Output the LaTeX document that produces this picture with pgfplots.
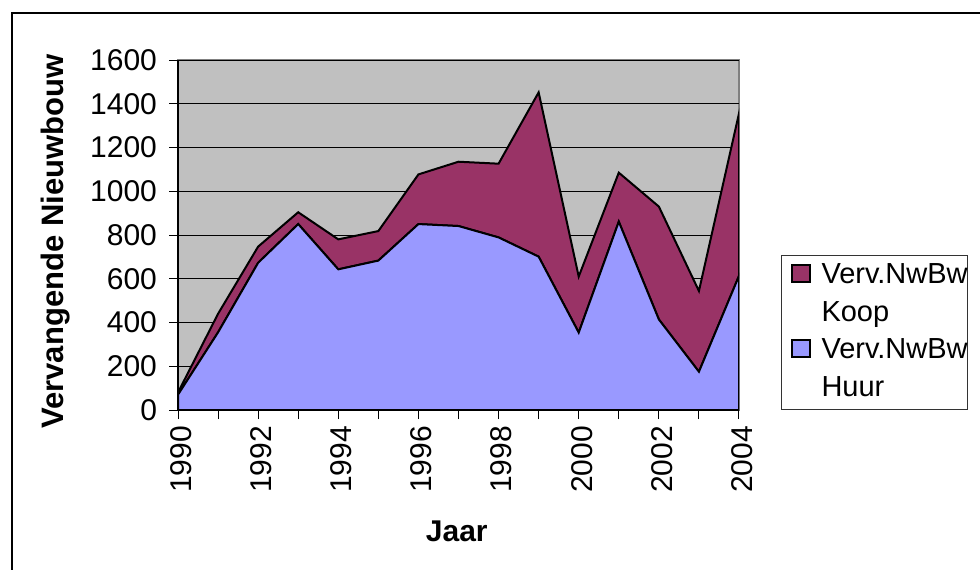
\documentclass[border=0pt]{standalone}
\usepackage{pgfplots}
\pgfplotsset{compat=1.18}
\usepackage{fontspec}
\setmainfont{Liberation Sans}
\definecolor{koop}{HTML}{993366}
\definecolor{huur}{HTML}{9999FF}
\definecolor{bgc}{HTML}{C0C0C0}
\definecolor{frame}{HTML}{808080}
\begin{document}
\begin{tikzpicture}
\useasboundingbox (0,0) rectangle (490pt,284.5pt);
\clip (0,0) rectangle (490pt,284.5pt);
\draw[line width=1pt] (6pt,-10pt) -- (6pt,278pt) -- (500pt,278pt);
\begin{axis}[
  at={(89pt,79.5pt)}, anchor=south west,
  width=280.5pt, height=175pt, scale only axis,
  xmin=1990, xmax=2004, ymin=0, ymax=1600,
  stack plots=y,
  axis x line*=bottom, axis y line*=left,
  x axis line style={-, black, line width=0.6pt},
  y axis line style={-, black, line width=0.6pt},
  axis background/.style={fill=bgc, draw=frame, line width=0.6pt},
  xtick={1990,...,2004},
  xticklabels={1990,,1992,,1994,,1996,,1998,,2000,,2002,,2004},
  ytick={0,200,...,1600},
  /pgf/number format/1000 sep={},
  /pgf/number format/assume math mode=true,
  ticklabel style={font=\fontsize{15}{17}\selectfont},
  x tick label style={rotate=90, anchor=east, yshift=-1.5pt},
  y tick label style={xshift=-2.5pt},
  tick align=outside, major tick length=4.5pt,
  tick style={black, line width=0.5pt},
  ymajorgrids, major grid style={black, line width=0.5pt},
  ylabel={Vervangende Nieuwbouw},
  xlabel={Jaar},
  every axis y label/.style={at={(axis description cs:-0.2175,0.481)}, rotate=90, anchor=center, font=\fontsize{15.5}{18}\selectfont\bfseries},
  every axis x label/.style={at={(axis description cs:0.497,-0.3457)}, anchor=center, font=\fontsize{15}{18}\selectfont\bfseries},
  legend style={at={(axis description cs:1.07487,0.44286)}, anchor=north west,
    draw=black!80, line width=0.6pt, fill=white, inner xsep=0pt, inner ysep=1pt,
    row sep=0pt, column sep=0pt,
    font=\fontsize{14.5}{18.75}\selectfont,
    nodes={inner sep=0pt, text height=13.1pt, text depth=5.65pt},
    cells={anchor=base west}},
]
\addplot[fill=huur, draw=black, line width=1pt, forget plot] coordinates {
(1990,70) (1991,355) (1992,673) (1993,850) (1994,643) (1995,683) (1996,850) (1997,841) (1998,789) (1999,701) (2000,354) (2001,861) (2002,414) (2003,175) (2004,613)
} \closedcycle;
\addplot[fill=koop, draw=black, line width=1pt, forget plot] coordinates {
(1990,10) (1991,85) (1992,74) (1993,54) (1994,137) (1995,135) (1996,227) (1997,294) (1998,337) (1999,751) (2000,256) (2001,224) (2002,516) (2003,369) (2004,743)
} \closedcycle;
\addlegendimage{legend image code/.code={
    \path[draw=none, fill=none] (-5.3pt,0pt) -- (14.65pt,0pt);
    \draw[fill=koop, draw=black, line width=0.8pt] (0pt,0.8pt) rectangle (8.75pt,9.55pt);
  }}
\addlegendentry{Verv.NwBw}
\addlegendimage{legend image code/.code={\path[draw=none, fill=none] (-5.3pt,0pt) -- (14.65pt,0pt);}}
\addlegendentry{Koop}
\addlegendimage{legend image code/.code={
    \path[draw=none, fill=none] (-5.3pt,0pt) -- (14.65pt,0pt);
    \draw[fill=huur, draw=black, line width=0.8pt] (0pt,0.8pt) rectangle (8.75pt,9.55pt);
  }}
\addlegendentry{Verv.NwBw}
\addlegendimage{legend image code/.code={\path[draw=none, fill=none] (-5.3pt,0pt) -- (14.65pt,0pt);}}
\addlegendentry{Huur}
\end{axis}
\end{tikzpicture}
\end{document}
